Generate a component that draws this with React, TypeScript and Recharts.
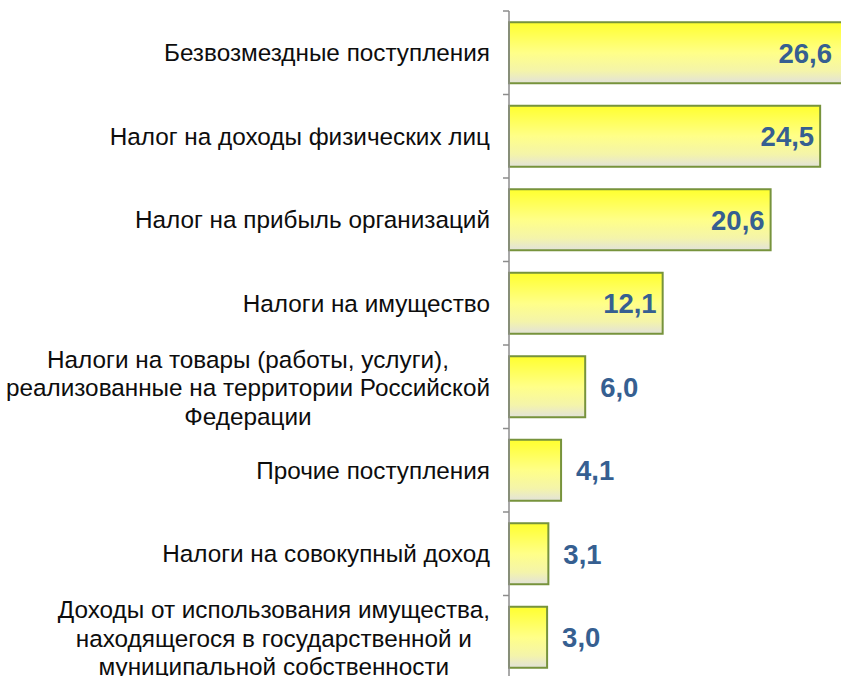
import React from "react";
import { BarChart, Bar, XAxis, YAxis, LabelList, Rectangle } from "recharts";

const categories = [
  "Безвозмездные поступления",
  "Налог на доходы физических лиц",
  "Налог на прибыль организаций",
  "Налоги на имущество",
  "Налоги на товары (работы, услуги),\nреализованные на территории Российской\nФедерации",
  "Прочие поступления",
  "Налоги на совокупный доход",
  "Доходы от использования имущества,\nнаходящегося в государственной и\nмуниципальной собственности",
];
const values = [26.6, 24.5, 20.6, 12.1, 6.0, 4.1, 3.1, 3.0];

const data = categories.map((name, i) => ({ name, value: values[i] }));

const FONT = '"Liberation Sans", Arial, sans-serif';
const CAT_SIZE = 24.3;
const LINE_H = 28.5;
const AXIS_X = 509;
const TOP = 11;
const PLOT_H = 668;
const CHART_W = 900;
const CHART_H = 690;
const BAND = PLOT_H / categories.length;
const VIEW_RIGHT = 838;

let ctx: CanvasRenderingContext2D | null = null;
function measure(text: string): number {
  if (!ctx) {
    const c = document.createElement("canvas");
    ctx = c.getContext("2d");
  }
  if (!ctx) return text.length * CAT_SIZE * 0.55;
  ctx.font = `${CAT_SIZE}px ${FONT}`;
  return ctx.measureText(text).width;
}

const CatTick = (props: any) => {
  const { y, payload, index } = props;
  const lines = String(payload.value).split("\n");
  const maxW = Math.max(...lines.map(measure));
  const cx = 490 - maxW / 2;
  const startY = y - ((lines.length - 1) * LINE_H) / 2 + (lines.length > 1 ? 1 : 0);
  return (
    <g>
      <line x1={AXIS_X - 6} x2={AXIS_X} y1={y - BAND / 2} y2={y - BAND / 2} stroke="#8c8c8c" strokeWidth={1.5} />
      {index === categories.length - 1 && (
        <line x1={AXIS_X - 6} x2={AXIS_X} y1={y + BAND / 2} y2={y + BAND / 2} stroke="#8c8c8c" strokeWidth={1.5} />
      )}
      <text textAnchor="middle" fontFamily={FONT} fontSize={CAT_SIZE} fill="#0d0d0d">
        {lines.map((l, i) => (
          <tspan key={i} x={cx} y={startY + i * LINE_H} dy="0.35em">
            {l}
          </tspan>
        ))}
      </text>
    </g>
  );
};

const ValueLabel = (props: any) => {
  const { x, y, width, height, value } = props;
  const v = Number(value);
  const text = v.toFixed(1).replace(".", ",");
  const inside = v >= 10;
  const end = Math.min(x + width, VIEW_RIGHT);
  return (
    <text
      x={inside ? end - 6 : x + width + 15}
      y={y + height / 2}
      dy="0.36em"
      textAnchor={inside ? "end" : "start"}
      fontFamily={FONT}
      fontWeight="bold"
      fontSize={27.5}
      fill="#365F91"
    >
      {text}
    </text>
  );
};

export default function App() {
  return (
    <div
      style={{
        position: "absolute",
        left: 0,
        top: 0,
        width: 841,
        height: 676,
        overflow: "hidden",
        background: "#fff",
      }}
    >
      <BarChart
        width={CHART_W}
        height={CHART_H}
        data={data}
        layout="vertical"
        margin={{ top: TOP, right: 10, bottom: CHART_H - TOP - PLOT_H, left: 0 }}
        barCategoryGap="13.5%"
      >
        <defs>
          <linearGradient id="barGrad" x1="0" y1="0" x2="0" y2="1">
            <stop offset="0%" stopColor="#FFFF2E" />
            <stop offset="50%" stopColor="#FFFF88" />
            <stop offset="80%" stopColor="#F4F4AA" />
            <stop offset="100%" stopColor="#E2E2DA" />
          </linearGradient>
        </defs>
        <XAxis type="number" domain={[0, 30]} hide />
        <YAxis
          type="category"
          dataKey="name"
          width={AXIS_X}
          axisLine={{ stroke: "#8c8c8c", strokeWidth: 1.5 }}
          tickLine={false}
          tick={<CatTick />}
          interval={0}
        />
        <Bar
          dataKey="value"
          isAnimationActive={false}
          fill="url(#barGrad)"
          stroke="#77933C"
          strokeWidth={2}
          shape={(p: any) => <Rectangle {...p} fill="url(#barGrad)" stroke="#77933C" strokeWidth={2} />}
        >
          <LabelList dataKey="value" content={<ValueLabel />} />
        </Bar>
      </BarChart>
    </div>
  );
}
